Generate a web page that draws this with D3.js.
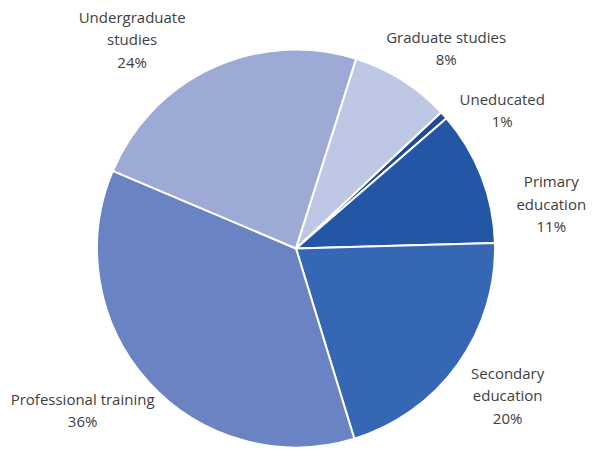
<!DOCTYPE html>
<html>
<head>
<meta charset="utf-8">
<script src="https://cdn.jsdelivr.net/npm/d3@7"></script>
<style>
  body { margin: 0; background: #fff; }
  svg text { font-family: "Open Sans", sans-serif; font-size: 15px; fill: #404040; }
</style>
</head>
<body>
<svg width="594" height="450"></svg>
<script>
// slice data, clockwise from the first slice
var categories = ["Uneducated", "Primary education", "Secondary education", "Professional training", "Undergraduate studies", "Graduate studies"];
var shares = [0.65, 10.9, 20.7, 36.1, 23.5, 8.1];
var percentLabels = ["1%", "11%", "20%", "36%", "24%", "8%"];
var labelLines = [["Uneducated"], ["Primary", "education"], ["Secondary", "education"], ["Professional training"], ["Undergraduate", "studies"], ["Graduate studies"]];
var colors = ["#1d4b94", "#2356a5", "#3567b5", "#6a84c3", "#9eaad6", "#bec8e4"];

var svg = d3.select("svg"),
  cx = 296,
  cy = 248.5,
  radius = 199;

// label placement (degrees off the slice mid-angle, distance from centre)
var labelNudge = [8.3, 11.5, -0.8, 4.8, -13.5, 4.7];
var labelDist = [248, 259, 258, 268, 265, 250];

var toRad = Math.PI / 180;

var pie = d3
  .pie()
  .sort(null)
  .value(function(d) { return d; })
  .startAngle(46.8 * toRad)
  .endAngle(46.8 * toRad + 2 * Math.PI);

var arc = d3.arc().innerRadius(0).outerRadius(radius);

var g = svg.append("g").attr("transform", "translate(" + cx + "," + cy + ")");

var arcs = pie(shares);

g.selectAll(".slice")
  .data(arcs)
  .enter()
  .append("path")
  .attr("class", "slice")
  .attr("d", arc)
  .attr("fill", function(d, i) { return colors[i]; })
  .attr("stroke", "#fff")
  .attr("stroke-width", 2)
  .attr("stroke-linejoin", "round");

var lineH = 22.5;

var labels = g.selectAll(".label")
  .data(arcs)
  .enter()
  .append("text")
  .attr("class", "label")
  .attr("text-anchor", "middle")
  .attr("transform", function(d, i) {
    var a = (d.startAngle + d.endAngle) / 2 + labelNudge[i] * toRad;
    var x = Math.sin(a) * labelDist[i],
      y = -Math.cos(a) * labelDist[i];
    return "translate(" + x + "," + y + ")";
  });

labels.each(function(d, i) {
  var lines = labelLines[i].concat([percentLabels[i]]);
  var top = -(lines.length - 1) * lineH / 2;
  var t = d3.select(this);
  lines.forEach(function(s, k) {
    t.append("tspan")
      .attr("x", 0)
      .attr("y", top + k * lineH)
      .attr("dy", "0.35em")
      .text(s);
  });
});
</script>
</body>
</html>
